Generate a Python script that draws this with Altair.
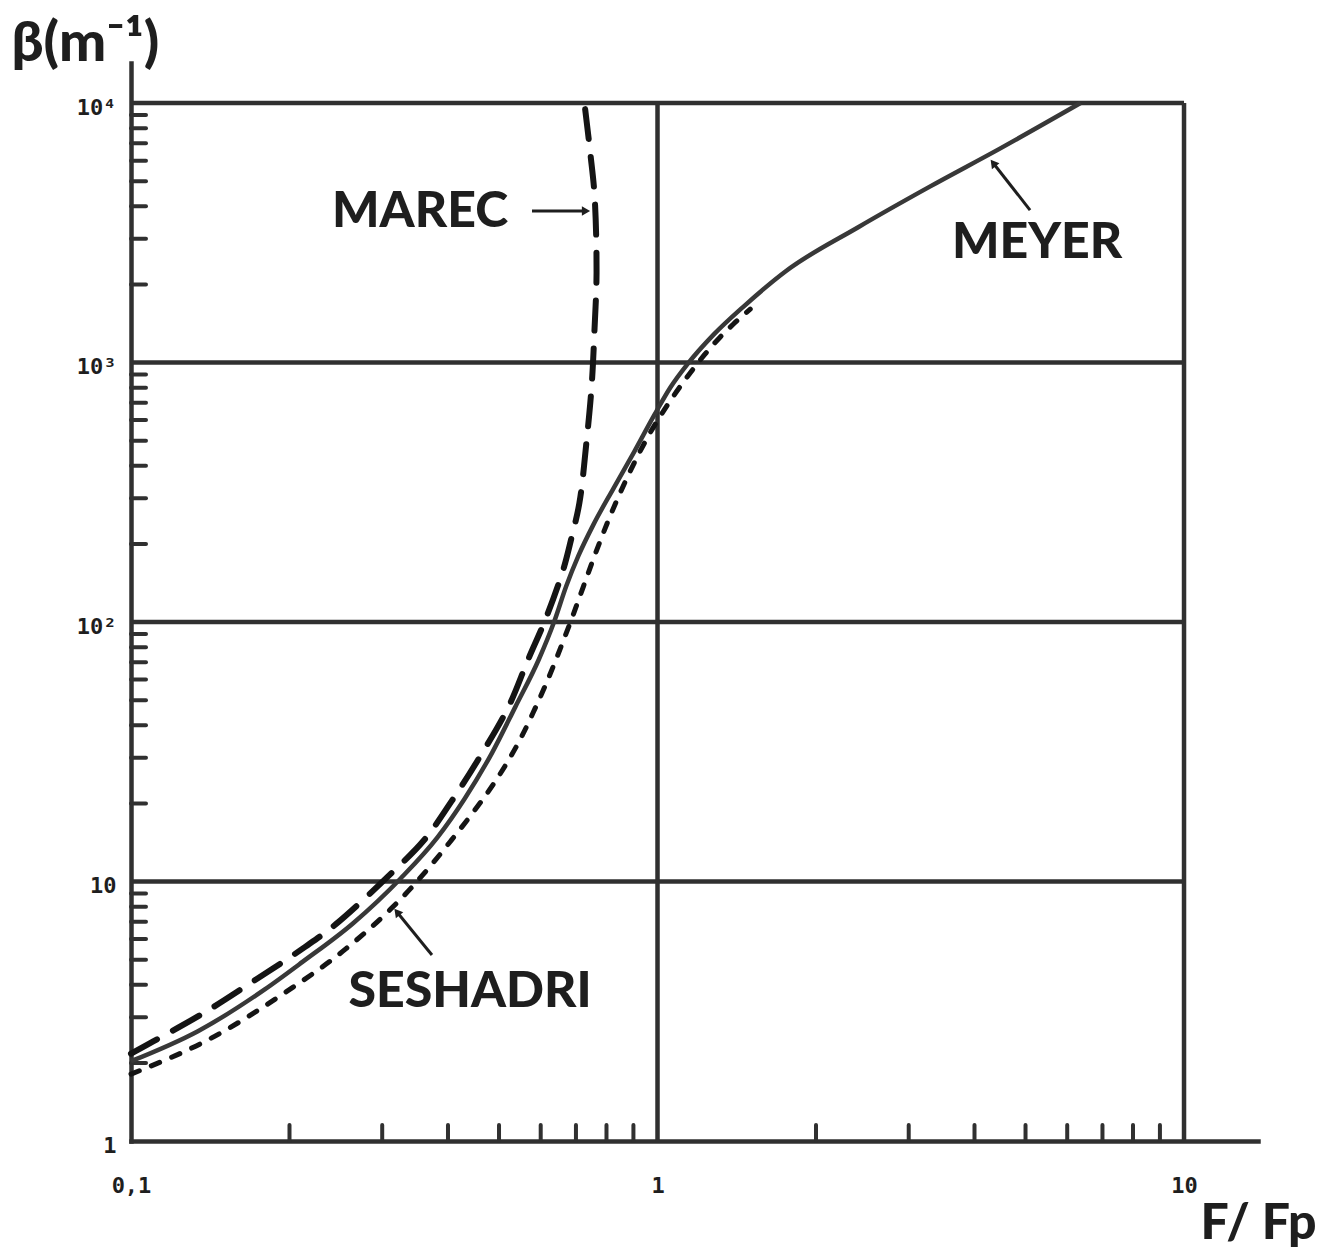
import altair as alt
import pandas as pd

# ---- curves: F/Fp against beta (m^-1) ----
meyer_x = [0.1, 0.134, 0.1795, 0.2117, 0.2642, 0.3255, 0.382, 0.4305, 0.4853,
           0.537, 0.595, 0.636, 0.671, 0.7074, 0.756, 0.826, 0.903, 0.987,
           1.057, 1.138, 1.278, 1.455, 1.752, 2.41, 3.29, 4.47, 6.36]
meyer_y = [2.03, 2.65, 3.84, 4.9, 6.91, 10.3, 14.8, 20.9, 31.4,
           47.1, 71.7, 100, 137.7, 179.8, 237.9, 329, 453, 630,
           800, 982, 1281, 1640, 2249, 3331, 4764, 6675, 10000]

marec_x = [0.1, 0.1102, 0.1376, 0.1696, 0.2145, 0.245, 0.3113, 0.3604, 0.4064,
           0.456, 0.521, 0.5667, 0.614, 0.662, 0.686, 0.7107, 0.733, 0.7495,
           0.7594, 0.766, 0.7594, 0.746, 0.7264]
marec_y = [2.17, 2.42, 3.12, 4.09, 5.61, 6.85, 10.7, 14.45, 20.4,
           29.4, 47.1, 71, 103.6, 159, 210, 288, 495, 807,
           1361, 2218, 4385, 6310, 10000]

seshadri_x = [0.1, 0.142, 0.1937, 0.2561, 0.3113, 0.3402, 0.3717, 0.4064,
              0.4439, 0.4853, 0.521, 0.5543, 0.5794, 0.614, 0.6417, 0.6709,
              0.6918, 0.7234, 0.756, 0.8117, 0.8752, 0.9565, 1.044, 1.138,
              1.225, 1.312, 1.394, 1.5]
seshadri_y = [1.81, 2.49, 3.67, 5.51, 7.83, 9.43, 11.57, 14.47,
              18.19, 23.35, 29.3, 36.8, 44.4, 57.7, 71.8, 90.6,
              106.9, 137.3, 175.7, 254.3, 359.6, 513, 685, 879,
              1065, 1247, 1408, 1606]

# ---- axes ----
x_tick_values = [0.1, 1, 10]
x_tick_labels = ["0,1", "1", "10"]
y_tick_values = [1, 10, 100, 1000, 10000]
y_tick_labels = ["1", "10", "10²", "10³", "10⁴"]
x_minor = [0.2, 0.3, 0.4, 0.5, 0.6, 0.7, 0.8, 0.9, 2, 3, 4, 5, 6, 7, 8, 9]
y_minor = [m * 10 ** k for k in range(4) for m in range(2, 10)]
grid_x = [1, 10]
grid_y = [10, 100, 1000, 10000]
x_domain = [0.1, 13.82]
y_domain = [1, 14270]

# ---- annotations ----
label_text = ["MAREC", "MEYER", "SESHADRI"]
label_x = [0.354, 5.26, 0.4405]
label_y = [3802, 2888, 3.75]
arrow_x1 = [0.5776, 5.10, 0.3729]
arrow_y1 = [3836, 3870, 5.21]
arrow_x2 = [0.7314, 4.34, 0.3200]
arrow_y2 = [3836, 5873, 7.63]

W, H = 1127, 1078
INK = "#1e1e1e"
LINE = "#303030"


def label_expr(values, labels):
    parts = "".join(f"datum.value == {v} ? '{l}' : " for v, l in zip(values, labels))
    return parts + "''"


xs = alt.Scale(type="log", domain=x_domain, nice=False, zero=False)
ys = alt.Scale(type="log", domain=y_domain, nice=False, zero=False)

x_axis = alt.Axis(
    values=x_tick_values, labelExpr=label_expr(x_tick_values, x_tick_labels),
    ticks=False, grid=False, domainColor=LINE, domainWidth=4.5, domainCap="square",
    labelFont="DejaVu Sans Mono", labelFontWeight="bold", labelFontSize=22,
    labelColor=INK, labelPadding=34, labelFlush=False, labelOverlap=False,
    title="F/ Fp", titleFont="Lato", titleFontWeight=900, titleFontSize=50,
    titleColor=INK, titleX=W, titleY=97, titleAlign="center",
    titleBaseline="alphabetic",
)
y_axis = alt.Axis(
    values=y_tick_values, labelExpr=label_expr(y_tick_values, y_tick_labels),
    ticks=False, grid=False, domainColor=LINE, domainWidth=4.5, domainCap="square",
    labelFont="DejaVu Sans Mono", labelFontWeight="bold", labelFontSize=22,
    labelColor=INK, labelPadding=15, labelOffset=4, labelFlush=False,
    labelOverlap=False,
    title="β(m⁻¹)", titleFont="Lato", titleFontWeight=900, titleFontSize=56,
    titleColor=INK, titleAngle=0, titleX=-120, titleY=-3, titleAlign="left",
    titleBaseline="alphabetic",
)


def X(field):
    return alt.X(f"{field}:Q", scale=xs, axis=x_axis)


def Y(field):
    return alt.Y(f"{field}:Q", scale=ys, axis=y_axis)


# decade grid inside the 0.1-10 x 1-10^4 box
hgrid = pd.DataFrame({"y": grid_y, "x0": 0.1, "x1": 10})
vgrid = pd.DataFrame({"x": grid_x, "y0": 1, "y1": 10000})

hgrid_layer = alt.Chart(hgrid).mark_rule(color=LINE, strokeWidth=4.5).encode(
    x=X("x0"), x2="x1", y=Y("y"))
vgrid_layer = alt.Chart(vgrid).mark_rule(color=LINE, strokeWidth=4.5).encode(
    x=X("x"), y=Y("y0"), y2="y1")

# inward minor ticks
xt = pd.DataFrame({"x": x_minor})
yt = pd.DataFrame({"y": y_minor})
xtick_layer = alt.Chart(xt).mark_rule(color=LINE, strokeWidth=4, strokeCap="round").encode(
    x=X("x"), y=alt.value(H), y2=alt.value(H - 16))
ytick_layer = alt.Chart(yt).mark_rule(color=LINE, strokeWidth=4, strokeCap="round").encode(
    y=Y("y"), x=alt.value(0), x2=alt.value(15))


def curve(xv, yv, interp, **mark):
    df = pd.DataFrame({"x": xv, "y": yv, "i": range(len(xv))})
    return alt.Chart(df).mark_line(interpolate=interp, **mark).encode(
        x=X("x"), y=Y("y"), order="i:Q")


meyer = curve(meyer_x, meyer_y, "monotone", color="#383838", strokeWidth=4.5)
marec = curve(marec_x, marec_y, "catmull-rom", color="#141414", strokeWidth=6,
              strokeDash=[30, 18], strokeCap="round")
seshadri = curve(seshadri_x, seshadri_y, "monotone", color="#141414", strokeWidth=5,
                 strokeDash=[9, 13], strokeCap="round")

labels = pd.DataFrame({"x": label_x, "y": label_y, "t": label_text})
text_layer = alt.Chart(labels).mark_text(
    font="Lato", fontWeight=900, fontSize=50, color=INK,
    align="center", baseline="middle").encode(x=X("x"), y=Y("y"), text="t:N")

arrows = pd.DataFrame({"x1": arrow_x1, "y1": arrow_y1, "x2": arrow_x2, "y2": arrow_y2})
arrow_layer = alt.Chart(arrows).mark_rule(color=INK, strokeWidth=3).encode(
    x=X("x1"), y=Y("y1"), x2="x2", y2="y2")


def head(i, angle):
    df = pd.DataFrame({"x": [arrow_x2[i]], "y": [arrow_y2[i]]})
    return alt.Chart(df).mark_point(shape="triangle-up", filled=True, size=90,
                                    color=INK, opacity=1, angle=angle).encode(
        x=X("x"), y=Y("y"))


heads = [head(0, 90), head(1, 322), head(2, 321)]

chart = alt.layer(
    hgrid_layer, vgrid_layer, xtick_layer, ytick_layer,
    seshadri, meyer, marec, arrow_layer, *heads, text_layer,
).properties(
    width=W, height=H,
    autosize=alt.AutoSizeParams(type="none"),
    padding={"left": 131, "top": 63, "right": 76, "bottom": 108},
    background="white",
).configure_view(strokeWidth=0)

chart.save("out.html", embed_options={"renderer": "svg", "actions": False})
